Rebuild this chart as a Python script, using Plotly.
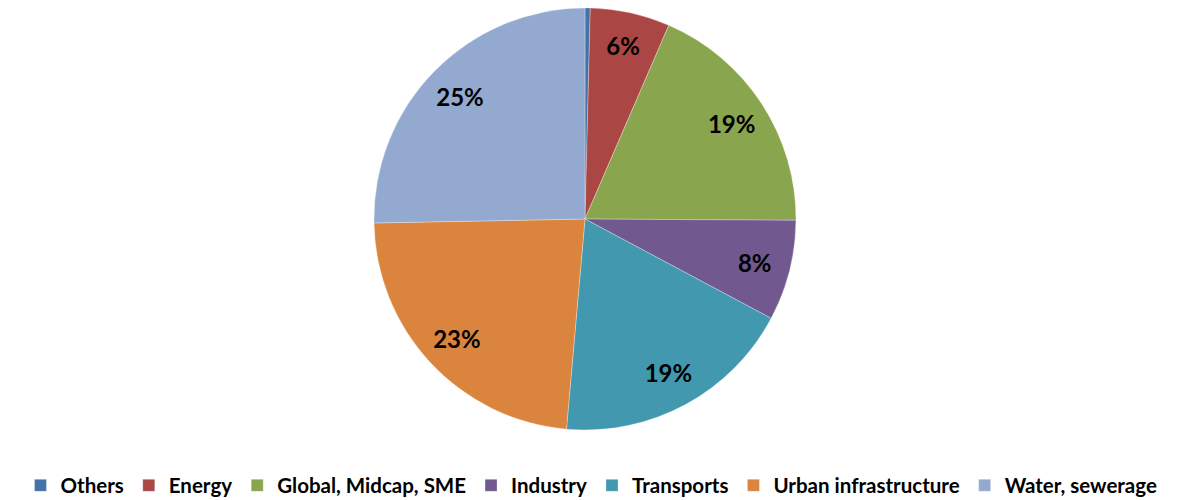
import plotly.graph_objects as go

categories = ["Others", "Energy", "Global, Midcap, SME", "Industry", "Transports",
              "Urban infrastructure", "Water, sewerage"]
values = [0.4, 6.1, 18.6, 7.7, 18.6, 23.3, 25.3]
colors = ["#4572A7", "#AA4643", "#89A54E", "#71588F", "#4198AF", "#DB843D", "#93A9CF"]
labels_text = [f"{round(v)}%" if v >= 1 else "" for v in values]

dom = dict(x=[0.3070, 0.6611], y=[0.156, 1.0])

fig = go.Figure()
fig.add_trace(go.Pie(
    labels=categories,
    values=values,
    textinfo="none",
    sort=False,
    direction="clockwise",
    rotation=0,
    marker=dict(colors=colors, line=dict(color="rgba(255,255,255,0.6)", width=0.5)),
    domain=dom,
))
# transparent ring carrying the percentage labels further out, as in the reference
fig.add_trace(go.Pie(
    labels=categories,
    values=values,
    text=labels_text,
    textinfo="text",
    textposition="inside",
    insidetextorientation="horizontal",
    hole=0.66,
    sort=False,
    direction="clockwise",
    rotation=0,
    showlegend=False,
    hoverinfo="skip",
    marker=dict(colors=["rgba(0,0,0,0)"] * len(values), line=dict(width=0)),
    textfont=dict(family="Lato", size=24, color="#000000", weight="bold"),
    domain=dom,
))

fig.update_layout(
    width=1192, height=500,
    margin=dict(l=0, r=0, t=0, b=0),
    paper_bgcolor="white",
    plot_bgcolor="white",
    showlegend=True,
    legend=dict(orientation="h", x=0.4895, xanchor="center", y=0.005, yanchor="bottom",
                font=dict(family="Lato", size=20.5, color="#000000", weight="bold"),
                itemwidth=30, traceorder="normal"),
)

fig.write_html("out.html")
